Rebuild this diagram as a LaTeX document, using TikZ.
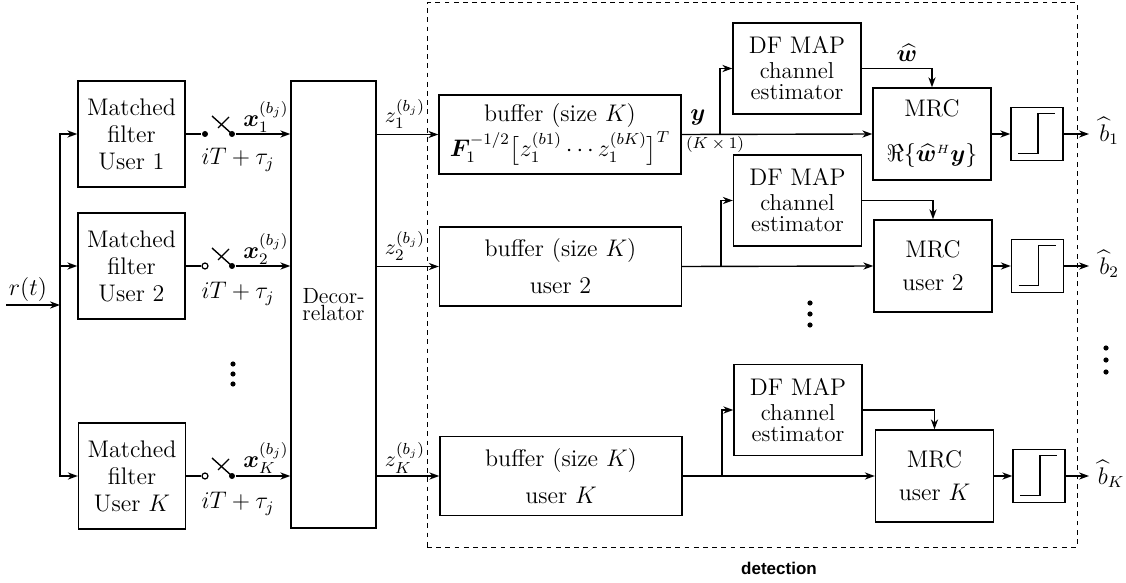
\documentclass[tikz,border=0pt]{standalone}
\usepackage{amsmath,amssymb,bm}
\usepackage{fontspec}
\newfontfamily\detfont{Liberation Sans}
\usetikzlibrary{arrows.meta,calc}
\begin{document}
\begin{tikzpicture}[x=0.5pt,y=-0.5pt,line width=0.7pt,
 box/.style={draw,rectangle,inner sep=0pt,align=center,font=\fontsize{12}{13.5}\selectfont},
 mfbox/.style={box,minimum width=53.5pt,minimum height=53pt},
 decbox/.style={box,minimum width=42.5pt,minimum height=223.5pt,font=\fontsize{11}{8.5}\selectfont},
 bufbox/.style={box,minimum width=121pt,minimum height=39.5pt},
 dfbox/.style={box,minimum width=64pt,minimum height=45.5pt},
 mrcbox/.style={box,minimum width=59pt,minimum height=46pt},
 slbox/.style={draw,rectangle,minimum width=26pt,minimum height=26.5pt,inner sep=0pt,
   path picture={\draw[line width=0.7pt] ([shift={(-19,19.5)}]path picture bounding box.center) -- ++(20,0) -- ++(0,-40) -- ++(17,0);}},
 arr/.style={-{Stealth[length=5pt,width=3.6pt]}},
 lbl/.style={inner sep=0pt,font=\fontsize{12}{13.5}\selectfont},
 slbl/.style={inner sep=0pt,font=\fontsize{11}{12}\selectfont},
 tlbl/.style={inner sep=0pt,font=\fontsize{8}{9}\selectfont},
 vdot/.style={circle,fill,inner sep=0pt,minimum size=2.6pt},
 swfill/.style={circle,fill,inner sep=0pt,minimum size=3pt},
 swopen/.style={circle,draw,fill=white,line width=0.6pt,inner sep=0pt,minimum size=3pt},
 detframe/.style={draw,dash pattern=on 2.4pt off 2.2pt,line width=0.5pt,rectangle,inner sep=0pt,minimum width=325pt,minimum height=272pt},
 dfsmall/.style={},
]
\useasboundingbox (0,0) rectangle (1126,583);

% detection frame
\node[detframe] (det) at (752,275) {};
\node[inner sep=0pt,font=\detfont\bfseries\fontsize{8.5}{10}\selectfont] (detl) at (779,568) {detection};

% input
\coordinate (in) at (6,305);
\coordinate (bus) at (60,305);
\node[lbl] (rt) at (28,289) {$r(t)$};
\draw[arr] (in) -- (bus);

% matched filters
\node[mfbox] (mf1) at (131.5,134) {Matched\\filter\\User 1};
\node[mfbox] (mf2) at (131.5,266) {Matched\\filter\\User 2};
\node[mfbox] (mfK) at (132,476) {Matched\\filter\\User $K$};
\draw[arr] (bus) |- (mf1.west);
\draw[arr] (bus) |- (mf2.west);
\draw[arr] (bus) |- (mfK.west);

% decorrelator
\node[decbox] (dec) at (333.5,304.5) {Decor-\\relator};

% switches
\foreach \r/\yy/\st in {1/134/swfill,2/266/swopen,K/476/swopen}{
  \node[\st] (sa\r) at (205,\yy) {};
  \node[swfill] (sb\r) at (232,\yy) {};
  \draw (mf\r.east) -- (sa\r);
  \draw (sb\r.center) -- ++(-20,-18);
  \draw ($(sb\r.center)+(-14,-6)$) -- ++(11,-11);
  \draw[arr] (sb\r) -- (dec.west|-sb\r);
}
\node[lbl] (x1) at (266,117) {$\bm{x}_1^{(b_j)}$};
\node[lbl] (x2) at (266,249) {$\bm{x}_2^{(b_j)}$};
\node[lbl] (xK) at (266,458) {$\bm{x}_K^{(b_j)}$};
\node[lbl] (t1) at (238,160) {$iT+\tau_j$};
\node[lbl] (t2) at (238,294) {$iT+\tau_j$};
\node[lbl] (tK) at (238,504) {$iT+\tau_j$};
\node[vdot] (ld1) at (233,364) {};
\node[vdot] (ld2) at (233,374) {};
\node[vdot] (ld3) at (233,384) {};

% buffers
\node[bufbox] (buf1) at (560,134.5) {buffer (size $K$)\\[1pt]$\bm{F}_1^{-1/2}\big[z_1^{(b1)}\cdots z_1^{(bK)}\big]^T$};
\node[bufbox] (buf2) at (560.5,266.5) {buffer (size $K$)\\[5pt]user 2};
\node[bufbox] (bufK) at (561,476) {buffer (size $K$)\\[5pt]user $K$};
\draw[arr] (dec.east|-buf1) -- (buf1.west);
\draw[arr] (dec.east|-buf2) -- (buf2.west);
\draw[arr] (dec.east|-bufK) -- (bufK.west);
\node[slbl] (z1) at (405,114) {$z_1^{(b_j)}$};
\node[slbl] (z2) at (405,246) {$z_2^{(b_j)}$};
\node[slbl] (zK) at (405,458) {$z_K^{(b_j)}$};

% DF MAP estimators
\node[dfbox] (df1) at (797,68.5) {DF MAP\\[-1pt]{\fontsize{11.5}{8}\selectfont channel}\\[-3pt]{\fontsize{11.5}{8}\selectfont estimator}};
\node[dfbox] (df2) at (797.5,200.5) {DF MAP\\[-1pt]{\fontsize{11.5}{8}\selectfont channel}\\[-3pt]{\fontsize{11.5}{8}\selectfont estimator}};
\node[dfbox] (dfK) at (798,410) {DF MAP\\[-1pt]{\fontsize{11.5}{8}\selectfont channel}\\[-3pt]{\fontsize{11.5}{8}\selectfont estimator}};

% MRC
\node[mrcbox] (mrc1) at (932,134) {MRC\\[9pt]$\Re\{\widehat{\bm{w}}^{\scriptscriptstyle H}\bm{y}\}$};
\node[mrcbox] (mrc2) at (933,266) {MRC\\[3pt]user 2};
\node[mrcbox] (mrcK) at (934.5,476) {MRC\\[3pt]user $K$};

% slicers
\node[slbox] (sl1) at (1037,134) {};
\node[slbox] (sl2) at (1037.5,266) {};
\node[slbox] (slK) at (1039,476) {};

% row connections
\coordinate (br1) at (720,134);
\coordinate (br2) at (721,266);
\coordinate (brK) at (722,476);
\coordinate (o1) at (1089,134);
\coordinate (o2) at (1089,266);
\coordinate (oK) at (1089,476);
\foreach \r in {1,2,K}{
  \draw[arr] (buf\r.east) -- (mrc\r.west);
  \draw[arr] (br\r) |- (df\r.west);
  \draw[arr] (df\r.east) -| (mrc\r.north);
  \draw[arr] (mrc\r.east) -- (sl\r.west);
  \draw[arr] (sl\r.east) -- (o\r);
}
\node[lbl] (ylab) at (698,118) {$\bm{y}$};
\node[tlbl] (kx1) at (715,145) {$(K\times 1)$};
\node[lbl] (wlab) at (907,53) {$\widehat{\bm{w}}$};
\node[lbl] (b1) at (1109,131) {$\widehat{b}_1$};
\node[lbl] (b2) at (1109,264) {$\widehat{b}_2$};
\node[lbl] (bK) at (1111,474) {$\widehat{b}_K$};

\node[vdot] (md1) at (810,303) {};
\node[vdot] (md2) at (810,314) {};
\node[vdot] (md3) at (810,325) {};
\node[vdot] (rd1) at (1106,348) {};
\node[vdot] (rd2) at (1106,360) {};
\node[vdot] (rd3) at (1106,372) {};
\end{tikzpicture}
\end{document}
